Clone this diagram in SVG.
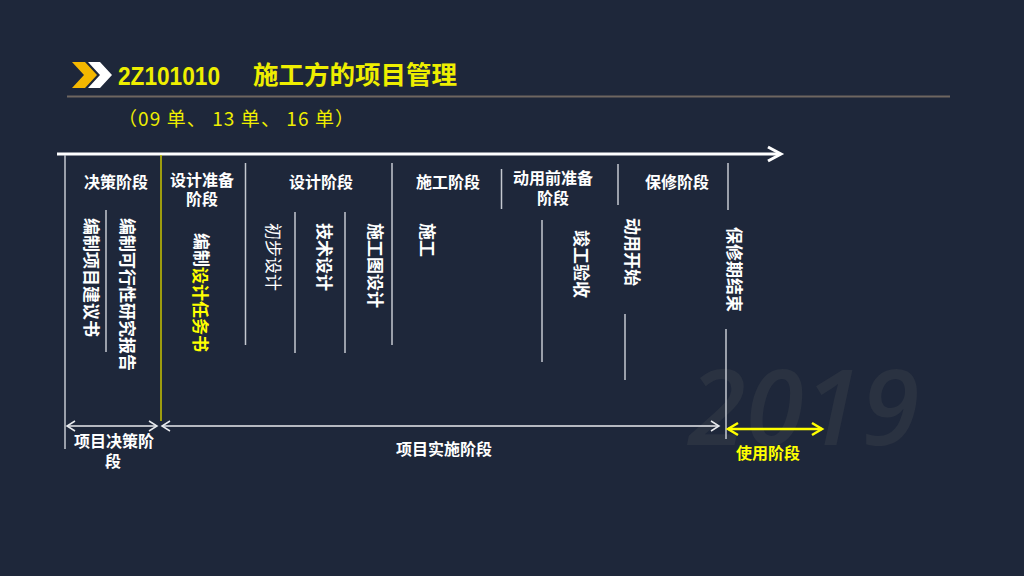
<svg xmlns="http://www.w3.org/2000/svg" width="1024" height="576" viewBox="0 0 1024 576">
<defs>
<style>
.bg{fill:#1e273a}
.t{font-family:"Noto Sans CJK SC","Liberation Sans",sans-serif;fill:#ffffff;font-weight:bold;font-size:16px}
.c{text-anchor:middle}
.v{font-family:"Noto Sans CJK SC","Liberation Sans",sans-serif;fill:#ffffff;font-weight:bold;font-size:17px;dominant-baseline:central}
.y{fill:#ffff00}
.ln{stroke:#c4c8d0;stroke-width:1.5;fill:none}
.ar{stroke:#e8eaee;stroke-width:1.5;fill:none}
</style>
</defs>
<rect class="bg" x="0" y="0" width="1024" height="576"/>

<text x="688" y="445" font-family="Open Sans, Liberation Sans, sans-serif" font-style="italic" font-weight="600" font-size="105" fill="#2a3241">2019</text>

<g id="header">
<polygon points="72,62 85,62 97,75 85,88 72,88 84,75" fill="#f5b800"/>
<polygon points="88,62 100,62 112,75 100,88 88,88 100,75" fill="#ffffff"/>
<text x="118" y="84.5" font-family="Liberation Sans, sans-serif" font-weight="bold" font-size="26" fill="#eeee00" textLength="102" lengthAdjust="spacingAndGlyphs">2Z101010</text>
<text x="253" y="84" font-family="Noto Sans CJK SC, sans-serif" font-weight="bold" font-size="25.5" fill="#eeee00">施工方的项目管理</text>
<line x1="67" y1="96.5" x2="950" y2="96.5" stroke="#6e6660" stroke-width="2"/>
<text x="118" y="126" font-family="Noto Sans CJK SC, sans-serif" font-size="19" fill="#eeee00" textLength="236" lengthAdjust="spacing">（09 单、 13 单、 16 单）</text>
</g>

<g id="connectors">
<line x1="57" y1="154" x2="780" y2="154" stroke="#ffffff" stroke-width="3"/>
<polyline points="768,147 781,154 768,161" stroke="#ffffff" stroke-width="3" fill="none"/>
<line class="ln" x1="65" y1="155" x2="65" y2="449"/>
<line x1="161" y1="155" x2="161" y2="421" stroke="#c8c400" stroke-width="1.5"/>
<line class="ln" x1="106" y1="210" x2="106" y2="352"/>
<line class="ln" x1="245.5" y1="163" x2="245.5" y2="345"/>
<line class="ln" x1="295" y1="212" x2="295" y2="353"/>
<line class="ln" x1="345" y1="212" x2="345" y2="353"/>
<line class="ln" x1="392" y1="163" x2="392" y2="345"/>
<line class="ln" x1="501.5" y1="169" x2="501.5" y2="209"/>
<line class="ln" x1="542" y1="220" x2="542" y2="362"/>
<line class="ln" x1="618" y1="164" x2="618" y2="205"/>
<line class="ln" x1="625" y1="314" x2="625" y2="380"/>
<line class="ln" x1="728" y1="163" x2="728" y2="210"/>
<line class="ln" x1="726" y1="329" x2="726" y2="439"/>
<line class="ar" x1="67" y1="426" x2="157" y2="426"/>
<polyline class="ar" points="75,421 67,426 75,431"/>
<polyline class="ar" points="149,421 157,426 149,431"/>
<line class="ar" x1="162" y1="426" x2="719" y2="426"/>
<polyline class="ar" points="170,421 162,426 170,431"/>
<polyline class="ar" points="711,421 719,426 711,431"/>
<line x1="728" y1="429" x2="822" y2="429" stroke="#ffff00" stroke-width="2.5"/>
<polyline points="738,423 728,429 738,435" stroke="#ffff00" stroke-width="2.5" fill="none"/>
<polyline points="812,423 822,429 812,435" stroke="#ffff00" stroke-width="2.5" fill="none"/>
</g>

<g id="phase-decision"><text class="t c" x="116" y="188">决策阶段</text></g>
<g id="phase-design-prep"><text class="t c" x="202" y="186">设计准备<tspan x="202" dy="19">阶段</tspan></text></g>
<g id="phase-design"><text class="t c" x="321" y="188">设计阶段</text></g>
<g id="phase-construction"><text class="t c" x="448" y="188">施工阶段</text></g>
<g id="phase-pre-use"><text class="t c" x="553" y="184">动用前准备<tspan x="553" dy="20">阶段</tspan></text></g>
<g id="phase-warranty"><text class="t c" x="677" y="188">保修阶段</text></g>

<g id="item-proposal"><text class="v" transform="translate(92,218) rotate(90)">编制项目建议书</text></g>
<g id="item-feasibility"><text class="v" transform="translate(128,218) rotate(90)">编制可行性研究报告</text></g>
<g id="item-design-task"><text class="v" transform="translate(202,233) rotate(90)">编制<tspan class="y">设计任务书</tspan></text></g>
<g id="item-prelim"><text class="v" style="font-weight:normal" transform="translate(274,223) rotate(90)">初步设计</text></g>
<g id="item-tech"><text class="v" transform="translate(325,223) rotate(90)">技术设计</text></g>
<g id="item-drawing"><text class="v" transform="translate(376,223) rotate(90)">施工图设计</text></g>
<g id="item-build"><text class="v" transform="translate(428,223) rotate(90)">施工</text></g>
<g id="item-acceptance"><text class="v" transform="translate(582,230) rotate(90)">竣工验收</text></g>
<g id="item-start-use"><text class="v" transform="translate(633,218) rotate(90)">动用开始</text></g>
<g id="item-warranty-end"><text class="v" transform="translate(735,227) rotate(90)">保修期结束</text></g>

<g id="stage-decision"><text class="t c" x="114" y="447">项目决策阶<tspan x="113" dy="20">段</tspan></text></g>
<g id="stage-implementation"><text class="t c" x="444" y="455">项目实施阶段</text></g>
<g id="stage-use"><text class="t c y" x="768" y="459">使用阶段</text></g>
</svg>
